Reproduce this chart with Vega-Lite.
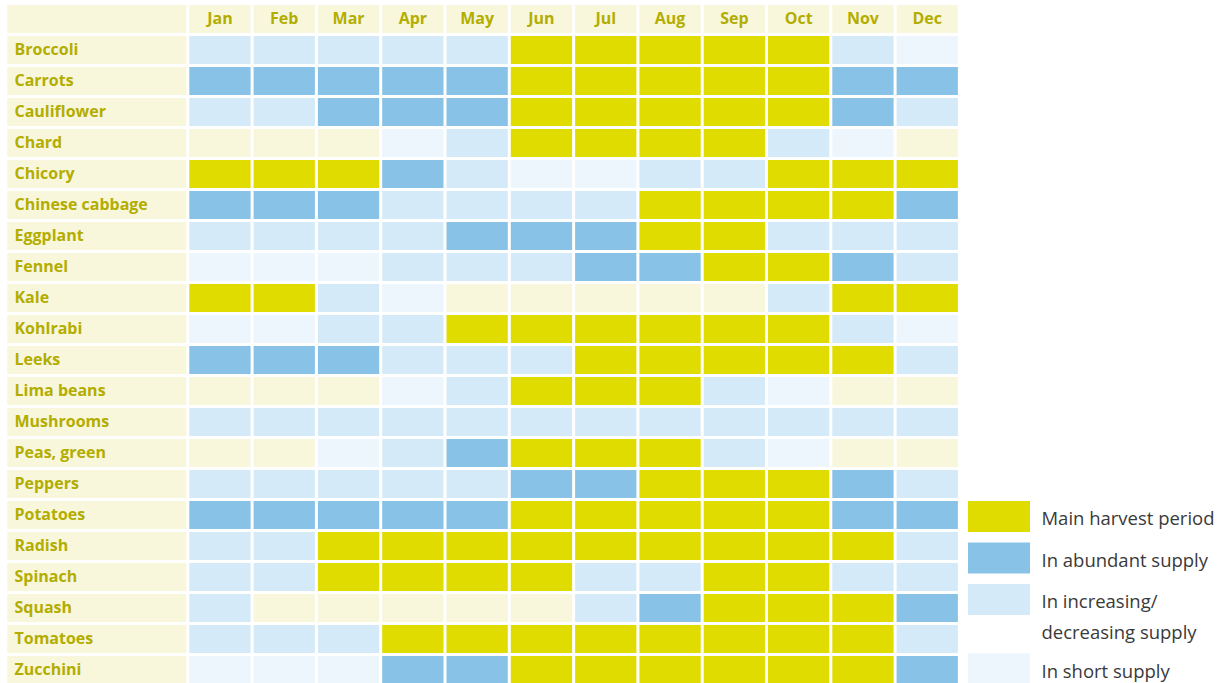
{
  "$schema": "https://vega.github.io/schema/vega-lite/v6.json",
  "padding": {"left": 7.3, "top": 5, "right": 0, "bottom": 0},
  "background": "white",
  "config": {"view": {"stroke": null}, "font": "Open Sans"},
  "spacing": 3,
  "datasets": {
    "months": [{"m":"Jan"},{"m":"Feb"},{"m":"Mar"},{"m":"Apr"},{"m":"May"},{"m":"Jun"},{"m":"Jul"},{"m":"Aug"},{"m":"Sep"},{"m":"Oct"},{"m":"Nov"},{"m":"Dec"}],
    "cells": [
      {"v":"Broccoli","m":"Jan","s":"I"},{"v":"Broccoli","m":"Feb","s":"I"},{"v":"Broccoli","m":"Mar","s":"I"},{"v":"Broccoli","m":"Apr","s":"I"},{"v":"Broccoli","m":"May","s":"I"},{"v":"Broccoli","m":"Jun","s":"H"},{"v":"Broccoli","m":"Jul","s":"H"},{"v":"Broccoli","m":"Aug","s":"H"},{"v":"Broccoli","m":"Sep","s":"H"},{"v":"Broccoli","m":"Oct","s":"H"},{"v":"Broccoli","m":"Nov","s":"I"},{"v":"Broccoli","m":"Dec","s":"S"},
      {"v":"Carrots","m":"Jan","s":"A"},{"v":"Carrots","m":"Feb","s":"A"},{"v":"Carrots","m":"Mar","s":"A"},{"v":"Carrots","m":"Apr","s":"A"},{"v":"Carrots","m":"May","s":"A"},{"v":"Carrots","m":"Jun","s":"H"},{"v":"Carrots","m":"Jul","s":"H"},{"v":"Carrots","m":"Aug","s":"H"},{"v":"Carrots","m":"Sep","s":"H"},{"v":"Carrots","m":"Oct","s":"H"},{"v":"Carrots","m":"Nov","s":"A"},{"v":"Carrots","m":"Dec","s":"A"},
      {"v":"Cauliflower","m":"Jan","s":"I"},{"v":"Cauliflower","m":"Feb","s":"I"},{"v":"Cauliflower","m":"Mar","s":"A"},{"v":"Cauliflower","m":"Apr","s":"A"},{"v":"Cauliflower","m":"May","s":"A"},{"v":"Cauliflower","m":"Jun","s":"H"},{"v":"Cauliflower","m":"Jul","s":"H"},{"v":"Cauliflower","m":"Aug","s":"H"},{"v":"Cauliflower","m":"Sep","s":"H"},{"v":"Cauliflower","m":"Oct","s":"H"},{"v":"Cauliflower","m":"Nov","s":"A"},{"v":"Cauliflower","m":"Dec","s":"I"},
      {"v":"Chard","m":"Jan","s":"N"},{"v":"Chard","m":"Feb","s":"N"},{"v":"Chard","m":"Mar","s":"N"},{"v":"Chard","m":"Apr","s":"S"},{"v":"Chard","m":"May","s":"I"},{"v":"Chard","m":"Jun","s":"H"},{"v":"Chard","m":"Jul","s":"H"},{"v":"Chard","m":"Aug","s":"H"},{"v":"Chard","m":"Sep","s":"H"},{"v":"Chard","m":"Oct","s":"I"},{"v":"Chard","m":"Nov","s":"S"},{"v":"Chard","m":"Dec","s":"N"},
      {"v":"Chicory","m":"Jan","s":"H"},{"v":"Chicory","m":"Feb","s":"H"},{"v":"Chicory","m":"Mar","s":"H"},{"v":"Chicory","m":"Apr","s":"A"},{"v":"Chicory","m":"May","s":"I"},{"v":"Chicory","m":"Jun","s":"S"},{"v":"Chicory","m":"Jul","s":"S"},{"v":"Chicory","m":"Aug","s":"I"},{"v":"Chicory","m":"Sep","s":"I"},{"v":"Chicory","m":"Oct","s":"H"},{"v":"Chicory","m":"Nov","s":"H"},{"v":"Chicory","m":"Dec","s":"H"},
      {"v":"Chinese cabbage","m":"Jan","s":"A"},{"v":"Chinese cabbage","m":"Feb","s":"A"},{"v":"Chinese cabbage","m":"Mar","s":"A"},{"v":"Chinese cabbage","m":"Apr","s":"I"},{"v":"Chinese cabbage","m":"May","s":"I"},{"v":"Chinese cabbage","m":"Jun","s":"I"},{"v":"Chinese cabbage","m":"Jul","s":"I"},{"v":"Chinese cabbage","m":"Aug","s":"H"},{"v":"Chinese cabbage","m":"Sep","s":"H"},{"v":"Chinese cabbage","m":"Oct","s":"H"},{"v":"Chinese cabbage","m":"Nov","s":"H"},{"v":"Chinese cabbage","m":"Dec","s":"A"},
      {"v":"Eggplant","m":"Jan","s":"I"},{"v":"Eggplant","m":"Feb","s":"I"},{"v":"Eggplant","m":"Mar","s":"I"},{"v":"Eggplant","m":"Apr","s":"I"},{"v":"Eggplant","m":"May","s":"A"},{"v":"Eggplant","m":"Jun","s":"A"},{"v":"Eggplant","m":"Jul","s":"A"},{"v":"Eggplant","m":"Aug","s":"H"},{"v":"Eggplant","m":"Sep","s":"H"},{"v":"Eggplant","m":"Oct","s":"I"},{"v":"Eggplant","m":"Nov","s":"I"},{"v":"Eggplant","m":"Dec","s":"I"},
      {"v":"Fennel","m":"Jan","s":"S"},{"v":"Fennel","m":"Feb","s":"S"},{"v":"Fennel","m":"Mar","s":"S"},{"v":"Fennel","m":"Apr","s":"I"},{"v":"Fennel","m":"May","s":"I"},{"v":"Fennel","m":"Jun","s":"I"},{"v":"Fennel","m":"Jul","s":"A"},{"v":"Fennel","m":"Aug","s":"A"},{"v":"Fennel","m":"Sep","s":"H"},{"v":"Fennel","m":"Oct","s":"H"},{"v":"Fennel","m":"Nov","s":"A"},{"v":"Fennel","m":"Dec","s":"I"},
      {"v":"Kale","m":"Jan","s":"H"},{"v":"Kale","m":"Feb","s":"H"},{"v":"Kale","m":"Mar","s":"I"},{"v":"Kale","m":"Apr","s":"S"},{"v":"Kale","m":"May","s":"N"},{"v":"Kale","m":"Jun","s":"N"},{"v":"Kale","m":"Jul","s":"N"},{"v":"Kale","m":"Aug","s":"N"},{"v":"Kale","m":"Sep","s":"N"},{"v":"Kale","m":"Oct","s":"I"},{"v":"Kale","m":"Nov","s":"H"},{"v":"Kale","m":"Dec","s":"H"},
      {"v":"Kohlrabi","m":"Jan","s":"S"},{"v":"Kohlrabi","m":"Feb","s":"S"},{"v":"Kohlrabi","m":"Mar","s":"I"},{"v":"Kohlrabi","m":"Apr","s":"I"},{"v":"Kohlrabi","m":"May","s":"H"},{"v":"Kohlrabi","m":"Jun","s":"H"},{"v":"Kohlrabi","m":"Jul","s":"H"},{"v":"Kohlrabi","m":"Aug","s":"H"},{"v":"Kohlrabi","m":"Sep","s":"H"},{"v":"Kohlrabi","m":"Oct","s":"H"},{"v":"Kohlrabi","m":"Nov","s":"I"},{"v":"Kohlrabi","m":"Dec","s":"S"},
      {"v":"Leeks","m":"Jan","s":"A"},{"v":"Leeks","m":"Feb","s":"A"},{"v":"Leeks","m":"Mar","s":"A"},{"v":"Leeks","m":"Apr","s":"I"},{"v":"Leeks","m":"May","s":"I"},{"v":"Leeks","m":"Jun","s":"I"},{"v":"Leeks","m":"Jul","s":"H"},{"v":"Leeks","m":"Aug","s":"H"},{"v":"Leeks","m":"Sep","s":"H"},{"v":"Leeks","m":"Oct","s":"H"},{"v":"Leeks","m":"Nov","s":"H"},{"v":"Leeks","m":"Dec","s":"I"},
      {"v":"Lima beans","m":"Jan","s":"N"},{"v":"Lima beans","m":"Feb","s":"N"},{"v":"Lima beans","m":"Mar","s":"N"},{"v":"Lima beans","m":"Apr","s":"S"},{"v":"Lima beans","m":"May","s":"I"},{"v":"Lima beans","m":"Jun","s":"H"},{"v":"Lima beans","m":"Jul","s":"H"},{"v":"Lima beans","m":"Aug","s":"H"},{"v":"Lima beans","m":"Sep","s":"I"},{"v":"Lima beans","m":"Oct","s":"S"},{"v":"Lima beans","m":"Nov","s":"N"},{"v":"Lima beans","m":"Dec","s":"N"},
      {"v":"Mushrooms","m":"Jan","s":"I"},{"v":"Mushrooms","m":"Feb","s":"I"},{"v":"Mushrooms","m":"Mar","s":"I"},{"v":"Mushrooms","m":"Apr","s":"I"},{"v":"Mushrooms","m":"May","s":"I"},{"v":"Mushrooms","m":"Jun","s":"I"},{"v":"Mushrooms","m":"Jul","s":"I"},{"v":"Mushrooms","m":"Aug","s":"I"},{"v":"Mushrooms","m":"Sep","s":"I"},{"v":"Mushrooms","m":"Oct","s":"I"},{"v":"Mushrooms","m":"Nov","s":"I"},{"v":"Mushrooms","m":"Dec","s":"I"},
      {"v":"Peas, green","m":"Jan","s":"N"},{"v":"Peas, green","m":"Feb","s":"N"},{"v":"Peas, green","m":"Mar","s":"S"},{"v":"Peas, green","m":"Apr","s":"I"},{"v":"Peas, green","m":"May","s":"A"},{"v":"Peas, green","m":"Jun","s":"H"},{"v":"Peas, green","m":"Jul","s":"H"},{"v":"Peas, green","m":"Aug","s":"H"},{"v":"Peas, green","m":"Sep","s":"I"},{"v":"Peas, green","m":"Oct","s":"S"},{"v":"Peas, green","m":"Nov","s":"N"},{"v":"Peas, green","m":"Dec","s":"N"},
      {"v":"Peppers","m":"Jan","s":"I"},{"v":"Peppers","m":"Feb","s":"I"},{"v":"Peppers","m":"Mar","s":"I"},{"v":"Peppers","m":"Apr","s":"I"},{"v":"Peppers","m":"May","s":"I"},{"v":"Peppers","m":"Jun","s":"A"},{"v":"Peppers","m":"Jul","s":"A"},{"v":"Peppers","m":"Aug","s":"H"},{"v":"Peppers","m":"Sep","s":"H"},{"v":"Peppers","m":"Oct","s":"H"},{"v":"Peppers","m":"Nov","s":"A"},{"v":"Peppers","m":"Dec","s":"I"},
      {"v":"Potatoes","m":"Jan","s":"A"},{"v":"Potatoes","m":"Feb","s":"A"},{"v":"Potatoes","m":"Mar","s":"A"},{"v":"Potatoes","m":"Apr","s":"A"},{"v":"Potatoes","m":"May","s":"A"},{"v":"Potatoes","m":"Jun","s":"H"},{"v":"Potatoes","m":"Jul","s":"H"},{"v":"Potatoes","m":"Aug","s":"H"},{"v":"Potatoes","m":"Sep","s":"H"},{"v":"Potatoes","m":"Oct","s":"H"},{"v":"Potatoes","m":"Nov","s":"A"},{"v":"Potatoes","m":"Dec","s":"A"},
      {"v":"Radish","m":"Jan","s":"I"},{"v":"Radish","m":"Feb","s":"I"},{"v":"Radish","m":"Mar","s":"H"},{"v":"Radish","m":"Apr","s":"H"},{"v":"Radish","m":"May","s":"H"},{"v":"Radish","m":"Jun","s":"H"},{"v":"Radish","m":"Jul","s":"H"},{"v":"Radish","m":"Aug","s":"H"},{"v":"Radish","m":"Sep","s":"H"},{"v":"Radish","m":"Oct","s":"H"},{"v":"Radish","m":"Nov","s":"H"},{"v":"Radish","m":"Dec","s":"I"},
      {"v":"Spinach","m":"Jan","s":"I"},{"v":"Spinach","m":"Feb","s":"I"},{"v":"Spinach","m":"Mar","s":"H"},{"v":"Spinach","m":"Apr","s":"H"},{"v":"Spinach","m":"May","s":"H"},{"v":"Spinach","m":"Jun","s":"H"},{"v":"Spinach","m":"Jul","s":"I"},{"v":"Spinach","m":"Aug","s":"I"},{"v":"Spinach","m":"Sep","s":"H"},{"v":"Spinach","m":"Oct","s":"H"},{"v":"Spinach","m":"Nov","s":"I"},{"v":"Spinach","m":"Dec","s":"I"},
      {"v":"Squash","m":"Jan","s":"I"},{"v":"Squash","m":"Feb","s":"N"},{"v":"Squash","m":"Mar","s":"N"},{"v":"Squash","m":"Apr","s":"N"},{"v":"Squash","m":"May","s":"N"},{"v":"Squash","m":"Jun","s":"N"},{"v":"Squash","m":"Jul","s":"I"},{"v":"Squash","m":"Aug","s":"A"},{"v":"Squash","m":"Sep","s":"H"},{"v":"Squash","m":"Oct","s":"H"},{"v":"Squash","m":"Nov","s":"H"},{"v":"Squash","m":"Dec","s":"A"},
      {"v":"Tomatoes","m":"Jan","s":"I"},{"v":"Tomatoes","m":"Feb","s":"I"},{"v":"Tomatoes","m":"Mar","s":"I"},{"v":"Tomatoes","m":"Apr","s":"H"},{"v":"Tomatoes","m":"May","s":"H"},{"v":"Tomatoes","m":"Jun","s":"H"},{"v":"Tomatoes","m":"Jul","s":"H"},{"v":"Tomatoes","m":"Aug","s":"H"},{"v":"Tomatoes","m":"Sep","s":"H"},{"v":"Tomatoes","m":"Oct","s":"H"},{"v":"Tomatoes","m":"Nov","s":"H"},{"v":"Tomatoes","m":"Dec","s":"I"},
      {"v":"Zucchini","m":"Jan","s":"S"},{"v":"Zucchini","m":"Feb","s":"S"},{"v":"Zucchini","m":"Mar","s":"S"},{"v":"Zucchini","m":"Apr","s":"A"},{"v":"Zucchini","m":"May","s":"A"},{"v":"Zucchini","m":"Jun","s":"H"},{"v":"Zucchini","m":"Jul","s":"H"},{"v":"Zucchini","m":"Aug","s":"H"},{"v":"Zucchini","m":"Sep","s":"H"},{"v":"Zucchini","m":"Oct","s":"H"},{"v":"Zucchini","m":"Nov","s":"H"},{"v":"Zucchini","m":"Dec","s":"A"}
    ]
  },
  "hconcat": [
    {
      "width": 179,
      "height": 679,
      "layer": [
        {
          "data": {"name": "cells"},
          "transform": [{"filter": "datum.m == 'Jan'"}],
          "mark": {"type": "rect", "fill": "#f8f7dc"},
          "encoding": {
            "y": {
              "field": "v", "type": "nominal",
              "scale": {"domain": [" ", "Broccoli", "Carrots", "Cauliflower", "Chard", "Chicory", "Chinese cabbage", "Eggplant", "Fennel", "Kale", "Kohlrabi", "Leeks", "Lima beans", "Mushrooms", "Peas, green", "Peppers", "Potatoes", "Radish", "Spinach", "Squash", "Tomatoes", "Zucchini"], "paddingInner": 0.09677, "paddingOuter": 0},
              "axis": {"orient": "left", "domain": false, "ticks": false, "tickSize": 0, "labelAlign": "left", "labelBaseline": "middle", "labelPadding": -6.7, "labelFont": "Open Sans", "labelFontWeight": "bold", "labelFontSize": 16, "labelColor": "#b3ad00", "labelLimit": 0, "title": null, "zindex": 1}
            }
          }
        },
        {
          "data": {"name": "months"},
          "transform": [{"filter": "datum.m == 'Jan'"}],
          "mark": {"type": "rect", "fill": "#f8f7dc"},
          "encoding": {"y": {"datum": " ", "type": "nominal"}}
        }
      ]
    },
    {
      "width": 768.6,
      "height": 679,
      "layer": [
        {
          "data": {"name": "cells"},
          "mark": {"type": "rect", "opacity": 1},
          "encoding": {
            "x": {"field": "m", "type": "ordinal", "scale": {"domain": ["Jan","Feb","Mar","Apr","May","Jun","Jul","Aug","Sep","Oct","Nov","Dec"], "paddingInner": 0.04666, "paddingOuter": 0}, "axis": null},
            "y": {"field": "v", "type": "nominal", "scale": {"domain": [" ", "Broccoli", "Carrots", "Cauliflower", "Chard", "Chicory", "Chinese cabbage", "Eggplant", "Fennel", "Kale", "Kohlrabi", "Leeks", "Lima beans", "Mushrooms", "Peas, green", "Peppers", "Potatoes", "Radish", "Spinach", "Squash", "Tomatoes", "Zucchini"], "paddingInner": 0.09677, "paddingOuter": 0}, "axis": null},
            "fill": {
              "field": "s", "type": "nominal",
              "scale": {"domain": ["H", "A", "I", "S", "N"], "range": ["#e0dc00", "#88c3e7", "#d5eaf8", "#eef6fd", "#f8f7dc"]},
              "legend": {
                "orient": "none", "legendX": 960.7, "legendY": 496, "direction": "vertical",
                "title": null, "values": ["H", "A", "I", "S"], "padding": 0,
                "symbolType": "M-2,-1H2V1H-2Z", "symbolSize": 961, "symbolStrokeWidth": 0, "symbolOpacity": 1, "symbolOffset": 15.5,
                "rowPadding": 10.5, "labelOffset": 27,
                "labelFont": "Open Sans", "labelFontSize": 18.5, "labelColor": "#3a3a3a", "labelLimit": 0,
                "labelExpr": "datum.value == 'H' ? 'Main harvest period' : datum.value == 'A' ? 'In abundant supply' : datum.value == 'I' ? ['In increasing/', 'decreasing supply'] : 'In short supply'",
                "encode": {"labels": {"update": {"lineHeight": {"value": 31}, "dy": {"value": 3}}}}
              }
            }
          }
        },
        {
          "data": {"name": "months"},
          "mark": {"type": "rect", "fill": "#f8f7dc"},
          "encoding": {
            "x": {"field": "m", "type": "ordinal"},
            "y": {"datum": " ", "type": "nominal"}
          }
        },
        {
          "data": {"name": "months"},
          "mark": {"type": "text", "font": "Open Sans", "fontWeight": "bold", "fontSize": 16, "color": "#b3ad00", "baseline": "middle"},
          "encoding": {
            "x": {"field": "m", "type": "ordinal"},
            "y": {"datum": " ", "type": "nominal"},
            "text": {"field": "m"}
          }
        }
      ]
    }
  ]
}
